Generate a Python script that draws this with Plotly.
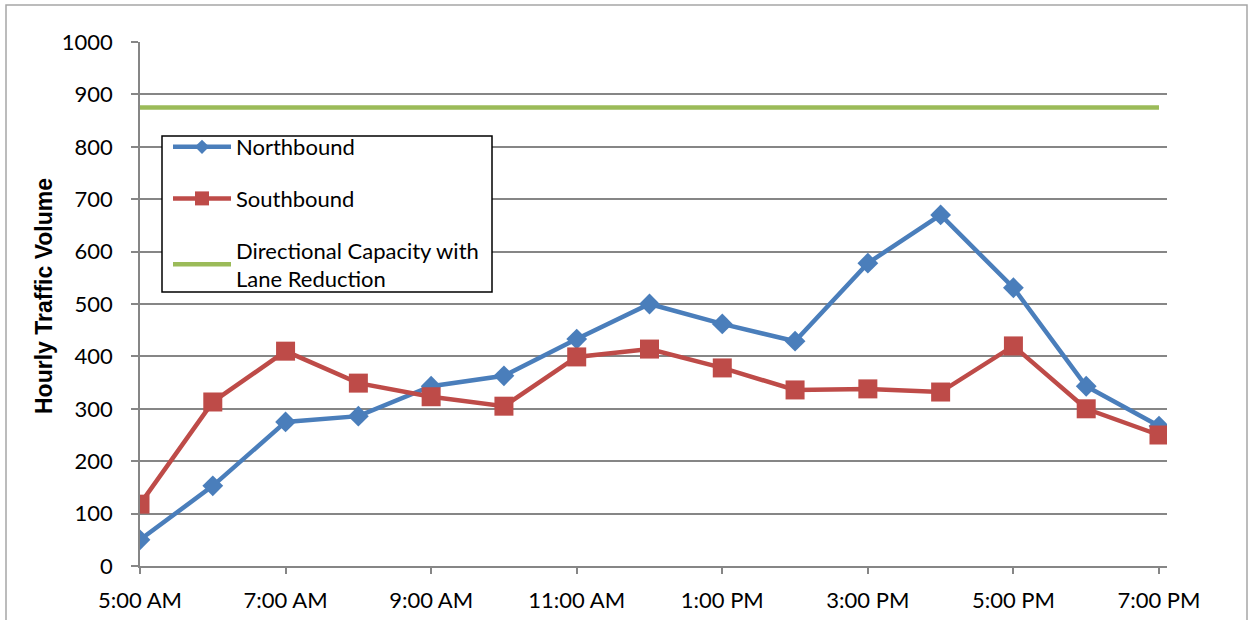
import plotly.graph_objects as go

hours = ["5:00 AM", "6:00 AM", "7:00 AM", "8:00 AM", "9:00 AM", "10:00 AM", "11:00 AM",
         "12:00 PM", "1:00 PM", "2:00 PM", "3:00 PM", "4:00 PM", "5:00 PM", "6:00 PM", "7:00 PM"]
northbound = [50, 153, 275, 286, 343, 363, 433, 500, 462, 429, 578, 670, 531, 343, 267]
southbound = [118, 313, 410, 349, 323, 305, 399, 414, 378, 336, 338, 332, 420, 300, 250]
capacity = [875] * len(hours)
tick_labels = hours[::2]
y_ticks = list(range(0, 1001, 100))

FONT = "Lato"
BLUE, RED, GREEN = "#4A7EBB", "#BE4B48", "#9BBB59"

fig = go.Figure()
# data traces
fig.add_trace(go.Scatter(
    x=hours, y=northbound, name="Northbound", mode="lines+markers",
    line=dict(color=BLUE, width=4.5),
    marker=dict(symbol="diamond", size=16, color=BLUE), showlegend=False))
fig.add_trace(go.Scatter(
    x=hours, y=southbound, name="Southbound", mode="lines+markers",
    line=dict(color=RED, width=4.5),
    marker=dict(symbol="square", size=19, color=RED), showlegend=False))
fig.add_trace(go.Scatter(
    x=hours, y=capacity, name="Directional Capacity with<br>Lane Reduction", mode="lines",
    line=dict(color=GREEN, width=4.5), showlegend=False))
# legend-only entries (smaller symbols as in the original legend)
fig.add_trace(go.Scatter(
    x=[None], y=[None], name="Northbound", mode="lines+markers",
    line=dict(color=BLUE, width=4.5), marker=dict(symbol="diamond", size=11, color=BLUE),
    legendgroup="a"))
fig.add_trace(go.Scatter(
    x=[None], y=[None], name="Southbound", mode="lines+markers",
    line=dict(color=RED, width=4.5), marker=dict(symbol="square", size=14, color=RED),
    legendgroup="b"))
fig.add_trace(go.Scatter(
    x=[None], y=[None], name="Directional Capacity with<br>Lane Reduction", mode="lines",
    line=dict(color=GREEN, width=4.5), legendgroup="c"))

W, H = 1252, 620
L, R, T, B = 140, 85, 42, 54
pw, ph = W - L - R, H - T - B

def px(xp):
    return (xp - L) / pw

def py(yp):
    return (H - B - yp) / ph

fig.update_layout(
    width=W, height=H,
    margin=dict(l=L, r=R, t=T, b=B, autoexpand=False),
    paper_bgcolor="white", plot_bgcolor="white",
    font=dict(family=FONT, size=22, color="black"),
    showlegend=True,
    legend=dict(
        x=px(168), y=py(126), xanchor="left", yanchor="top",
        bgcolor="rgba(0,0,0,0)", borderwidth=0,
        font=dict(family=FONT, size=22, color="black"),
        traceorder="grouped", tracegroupgap=20, itemwidth=58,
    ),
    xaxis=dict(
        type="category", categoryorder="array", categoryarray=hours,
        range=[0, 14.11], automargin=False,
        tickmode="array", tickvals=tick_labels, ticktext=tick_labels,
        showline=True, linecolor="#868686", linewidth=1.5,
        ticks="outside", ticklen=6, tickcolor="#868686", tickwidth=1.5,
        showgrid=False, zeroline=False, ticklabelstandoff=8,
        tickfont=dict(family=FONT, size=22, color="black"),
    ),
    yaxis=dict(
        range=[0, 1000], tickmode="array", tickvals=y_ticks, automargin=False,
        showline=True, linecolor="#868686", linewidth=1.5,
        ticks="outside", ticklen=7, tickcolor="#868686", tickwidth=1.5,
        showgrid=True, gridcolor="#868686", gridwidth=1.5, zeroline=False,
        ticklabelstandoff=14,
        tickfont=dict(family=FONT, size=22, color="black"),
    ),
    annotations=[dict(
        text="<b>Hourly Traffic Volume</b>", textangle=-90,
        xref="paper", yref="paper", x=px(44), y=py(296),
        xanchor="center", yanchor="middle", showarrow=False,
        font=dict(family="Liberation Sans", size=23, color="black"))],
    shapes=[
        dict(type="rect", xref="paper", yref="paper",
             x0=px(6), x1=px(1247), y0=py(630), y1=py(5),
             line=dict(color="#A6A6A6", width=1.5), fillcolor="rgba(0,0,0,0)",
             layer="below"),
        dict(type="rect", xref="paper", yref="paper",
             x0=px(162), x1=px(492), y0=py(292), y1=py(136),
             line=dict(color="black", width=1.5), fillcolor="white",
             layer="above"),
    ],
)

fig.write_html("out.html", config={"displayModeBar": False},
               post_script="document.body.style.margin='0px';")
